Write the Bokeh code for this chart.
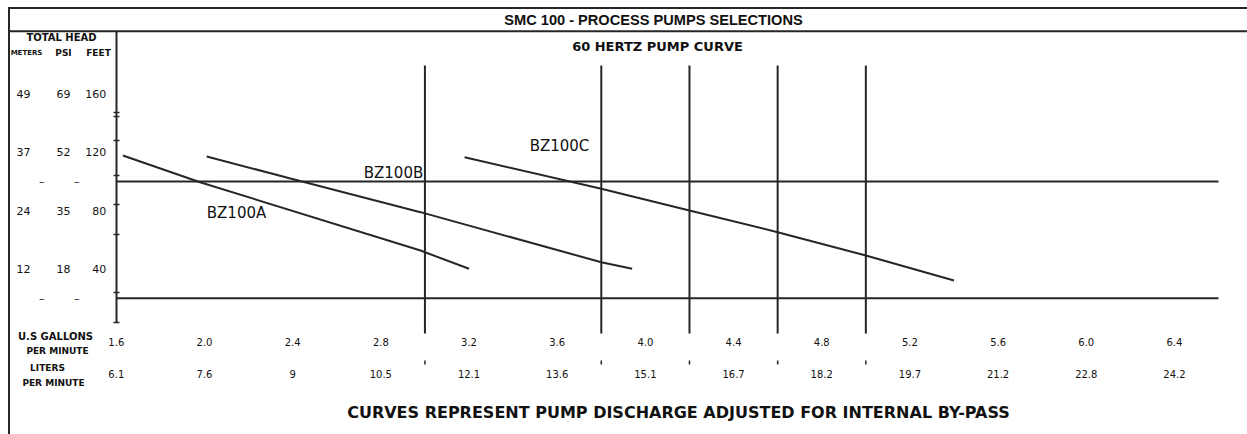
from bokeh.plotting import figure
from bokeh.models import LinearAxis, FixedTicker, Range1d, Label
from bokeh.embed import file_html
from bokeh.resources import INLINE

# ---------------- data ----------------
head_ft = [160, 120, 80, 40]
head_psi = ["69", "52", "35", "18"]
head_m = ["49", "37", "24", "12"]
dash_ft = [100, 20]
axis_marks_ft = [147, 144.5, 128, 104, 84, 64, 24, 3.5]

gpm_ticks = [1.6, 2.0, 2.4, 2.8, 3.2, 3.6, 4.0, 4.4, 4.8, 5.2, 5.6, 6.0, 6.4]
gpm_labels = ["1.6", "2.0", "2.4", "2.8", "3.2", "3.6", "4.0", "4.4", "4.8",
              "5.2", "5.6", "6.0", "6.4"]
lpm_labels = ["6.1", "7.6", "9", "10.5", "12.1", "13.6", "15.1", "16.7",
              "18.2", "19.7", "21.2", "22.8", "24.2"]

flow_marks = [3.0, 3.8, 4.2, 4.6, 5.0]
head_marks = [100, 20]

bz100a_gpm = [1.63, 1.98, 2.98, 3.20]
bz100a_ft = [117.8, 99.5, 52.7, 40.2]
bz100b_gpm = [2.01, 2.39, 2.98, 3.80, 3.94]
bz100b_ft = [117.1, 102.1, 79.0, 44.7, 40.2]
bz100c_gpm = [3.18, 3.80, 4.20, 4.60, 5.00, 5.40]
bz100c_ft = [116.6, 95.0, 80.1, 65.3, 49.3, 32.2]

# ---------------- layout helpers (page pixel -> data) ----------------
W, H = 1247, 434


def gx(px):
    return 1.6 + (px - 115.8) / 220.45


def fy(py):
    return (327.0 - py) / 1.46


LINE = "#262626"
TXT = "#111111"
FONT = "DejaVu Sans"

p = figure(width=W, height=H, output_backend="svg", toolbar_location=None,
           x_range=Range1d(gx(0), gx(W)), y_range=Range1d(fy(H), fy(0)),
           x_axis_type=None, y_axis_type=None, min_border=0)
p.outline_line_color = None
p.background_fill_color = "white"
p.border_fill_color = "white"

# frame / title bar lines
p.segment(x0=[gx(8), gx(8)], y0=[fy(7.5), fy(30.7)], x1=[gx(W), gx(W)],
          y1=[fy(7.5), fy(30.7)], line_color=LINE, line_width=2)
p.segment(x0=[gx(8.5)], y0=[fy(6.5)], x1=[gx(8.5)], y1=[fy(H)],
          line_color=LINE, line_width=2)

# reference lines
p.segment(x0=flow_marks, y0=[fy(333)] * len(flow_marks), x1=flow_marks,
          y1=[fy(65)] * len(flow_marks), line_color=LINE, line_width=2)
p.segment(x0=flow_marks, y0=[fy(364)] * len(flow_marks), x1=flow_marks,
          y1=[fy(360)] * len(flow_marks), line_color=LINE, line_width=1.5)
p.segment(x0=[1.6] * len(head_marks), y0=head_marks,
          x1=[gx(1218)] * len(head_marks), y1=head_marks,
          line_color=LINE, line_width=2)

# pump curves
for xs, ys in [(bz100a_gpm, bz100a_ft), (bz100b_gpm, bz100b_ft), (bz100c_gpm, bz100c_ft)]:
    p.line(xs, ys, line_color=LINE, line_width=2)

# ---------------- axes ----------------
def label_axis(loc, ticks, labels, standoff=0, size="11px", style="normal"):
    return LinearAxis(fixed_location=loc, ticker=FixedTicker(ticks=ticks),
                      major_label_overrides=dict(zip(ticks, labels)),
                      axis_line_color=None, major_tick_line_color=None,
                      minor_tick_line_color=None, major_tick_in=0, major_tick_out=0,
                      minor_tick_in=0, minor_tick_out=0,
                      major_label_standoff=standoff,
                      major_label_text_font=FONT, major_label_text_font_size=size,
                      major_label_text_font_style=style,
                      major_label_text_color=TXT)


ax_ft = LinearAxis(fixed_location=1.6,
                   ticker=FixedTicker(ticks=head_ft, minor_ticks=axis_marks_ft),
                   major_label_overrides=dict(zip(head_ft, [str(v) for v in head_ft])),
                   bounds=(fy(322), fy(31)), axis_line_color=LINE, axis_line_width=2,
                   major_tick_line_color=None, major_tick_in=0, major_tick_out=0,
                   minor_tick_line_color=LINE, minor_tick_line_width=1.5,
                   minor_tick_in=3, minor_tick_out=3, major_label_standoff=7,
                   major_label_text_font=FONT, major_label_text_font_size="11px",
                   major_label_text_color=TXT)
p.add_layout(ax_ft, "left")
p.add_layout(label_axis(gx(70), head_ft, head_psi), "left")
p.add_layout(label_axis(gx(30), head_ft, head_m), "left")
p.add_layout(label_axis(gx(44), dash_ft, ["\u2013"] * len(dash_ft)), "left")
p.add_layout(label_axis(gx(79), dash_ft, ["\u2013"] * len(dash_ft)), "left")

p.add_layout(label_axis(fy(334), gpm_ticks, gpm_labels, standoff=3, size="10px"), "below")
p.add_layout(label_axis(fy(366), gpm_ticks, lpm_labels, standoff=3, size="10px"), "below")

# ---------------- texts ----------------
def add_text(px, py, text, size, style="normal", font=FONT, align="center"):
    p.add_layout(Label(x=gx(px), y=fy(py), text=text, text_align=align,
                       text_baseline="middle", text_font=font,
                       text_font_size=size, text_font_style=style,
                       text_color=TXT))


add_text(653, 19.5, "SMC 100 - PROCESS PUMPS SELECTIONS", "14.6px", "bold",
         font="Liberation Sans")
add_text(657, 46, "60 HERTZ PUMP CURVE", "13px", "bold")
add_text(61, 37, "TOTAL HEAD", "10px", "bold")
add_text(26, 52, "METERS", "7px", "bold")
add_text(63, 52, "PSI", "9px", "bold")
add_text(98, 52, "FEET", "9px", "bold")
add_text(236, 212, "BZ100A", "15px")
add_text(393, 172, "BZ100B", "15px")
add_text(559, 145, "BZ100C", "15px")
add_text(55, 336, "U.S GALLONS", "10px", "bold")
add_text(57, 350, "PER MINUTE", "9px", "bold")
add_text(47, 367, "LITERS", "9px", "bold")
add_text(53, 382, "PER MINUTE", "9px", "bold")
add_text(678, 412, "CURVES REPRESENT PUMP DISCHARGE ADJUSTED FOR INTERNAL BY-PASS", "16px", "bold")

open("out.html", "w").write(file_html(p, INLINE))
